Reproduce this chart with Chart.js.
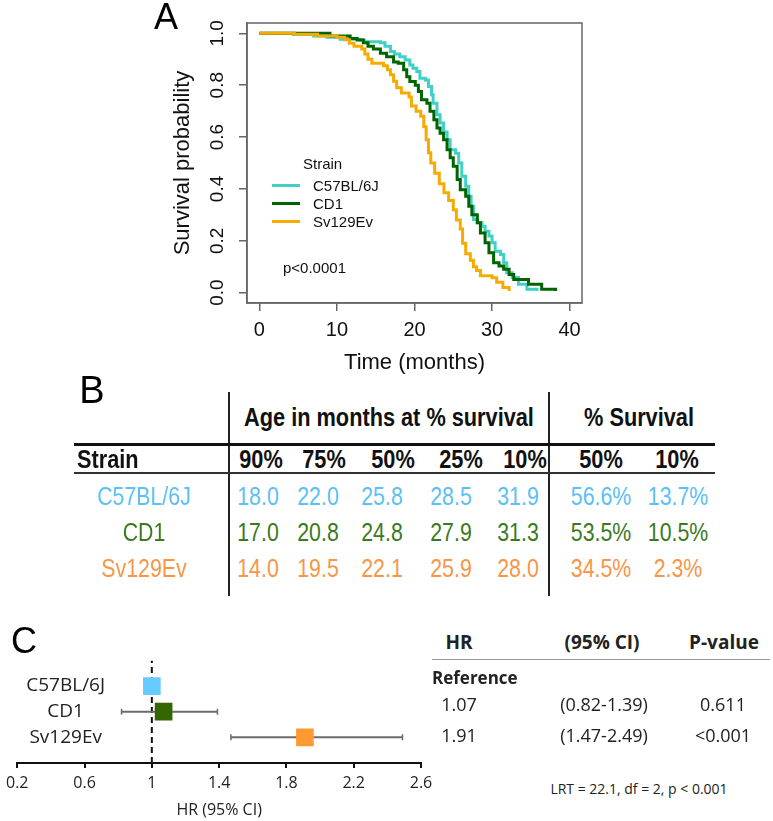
<!DOCTYPE html>
<html>
<head>
<meta charset="utf-8">
<script src="https://cdn.jsdelivr.net/npm/chart.js@4.4.0/dist/chart.umd.min.js"></script>
<style>
  html, body { margin: 0; padding: 0; background: #fff; }
  body { width: 773px; height: 821px; position: relative; overflow: hidden; font-family: "Liberation Sans", Arial, sans-serif; color: #111; }
  .abs { position: absolute; white-space: nowrap; line-height: 1.15; }
  canvas { position: absolute; }
  .hline { position: absolute; }
</style>
</head>
<body>
<canvas id="km" width="600" height="385" style="left:0;top:0"></canvas>
<canvas id="forest" width="440" height="181" style="left:0;top:640px"></canvas>
<script>
// ---- Panel A: Kaplan-Meier curves (time in months, survival probability)
const strains = ['C57BL/6J', 'CD1', 'Sv129Ev'];
const kmColors = ['#40D0C8', '#006400', '#F7AA00'];

const c57Time = [0, 4.4, 7.0, 8.7, 10.4, 13.0, 13.5, 15.6, 16.2, 16.9, 17.4, 18.1, 18.8, 19.4, 19.8, 20.3, 20.7, 21.4, 21.8, 22.2, 22.4, 22.9, 23.3, 23.75, 24.2, 24.6, 25.3, 25.7, 26.1, 26.6, 27.0, 27.3, 27.6, 28.1, 28.7, 29.1, 29.6, 30.0, 30.4, 31.1, 31.5, 31.9, 32.6, 33.4, 34.5, 35.8];
const c57Surv = [1.0, 0.996, 0.99, 0.985, 0.977, 0.974, 0.968, 0.964, 0.95, 0.93, 0.92, 0.91, 0.897, 0.878, 0.865, 0.853, 0.827, 0.82, 0.795, 0.763, 0.73, 0.686, 0.654, 0.62, 0.59, 0.551, 0.538, 0.5, 0.449, 0.41, 0.372, 0.333, 0.282, 0.27, 0.256, 0.237, 0.218, 0.192, 0.16, 0.147, 0.115, 0.077, 0.058, 0.032, 0.013, 0.006];

const cd1Time = [0, 9.1, 11.7, 12.6, 13.4, 14.0, 14.7, 15.6, 16.4, 17.3, 17.9, 18.6, 19.0, 19.4, 20.1, 20.5, 20.9, 21.6, 22.0, 22.5, 22.9, 23.3, 23.75, 24.2, 24.6, 25.0, 25.5, 25.9, 26.6, 27.0, 27.4, 28.1, 28.5, 29.1, 29.6, 30.2, 30.9, 31.5, 32.2, 32.8, 34.7, 36.4, 38.2];
const cd1Surv = [1.0, 0.99, 0.98, 0.974, 0.964, 0.95, 0.94, 0.923, 0.91, 0.89, 0.885, 0.86, 0.833, 0.814, 0.8, 0.776, 0.744, 0.73, 0.7, 0.667, 0.635, 0.615, 0.59, 0.551, 0.52, 0.487, 0.436, 0.397, 0.372, 0.333, 0.3, 0.27, 0.23, 0.192, 0.154, 0.115, 0.103, 0.09, 0.07, 0.051, 0.032, 0.013, 0.006];

const sv129Time = [0, 4.5, 7.5, 10.0, 11.0, 11.6, 12.2, 13.2, 13.6, 14.0, 14.5, 16.0, 16.5, 16.9, 17.3, 17.7, 18.3, 19.3, 19.6, 20.2, 20.8, 21.2, 21.5, 21.8, 22.1, 22.6, 23.2, 23.8, 24.4, 25.0, 25.4, 25.9, 26.2, 26.6, 27.2, 27.6, 28.0, 28.5, 30.0, 30.6, 31.4, 32.2];
const sv129Surv = [1.0, 0.997, 0.99, 0.985, 0.975, 0.962, 0.95, 0.94, 0.92, 0.9, 0.885, 0.875, 0.86, 0.84, 0.815, 0.79, 0.77, 0.755, 0.72, 0.7, 0.68, 0.64, 0.59, 0.54, 0.5, 0.46, 0.42, 0.385, 0.355, 0.32, 0.28, 0.245, 0.19, 0.15, 0.125, 0.1, 0.085, 0.065, 0.057, 0.04, 0.02, 0.006];

const timeTicks = [0, 10, 20, 30, 40];
const survTicks = [0, 0.2, 0.4, 0.6, 0.8, 1.0];

// ---- Panel B: table values
const survivalLevels = ['90%', '75%', '50%', '25%', '10%'];
const ageAtSurvival = [
  [18.0, 22.0, 25.8, 28.5, 31.9],
  [17.0, 20.8, 24.8, 27.9, 31.3],
  [14.0, 19.5, 22.1, 25.9, 28.0]
];
const pctLevels = ['50%', '10%'];
const pctSurvival = [
  [56.6, 13.7],
  [53.5, 10.5],
  [34.5, 2.3]
];
const tableColors = ['#5BC0F5', '#3B7A1E', '#F79646'];

// ---- Panel C: hazard ratios
const hrValues = [1.0, 1.07, 1.91];
const ciLow = [null, 0.82, 1.47];
const ciHigh = [null, 1.39, 2.49];
const pValues = ['', '0.611', '<0.001'];
const hrTicks = [0.2, 0.6, 1, 1.4, 1.8, 2.2, 2.6];
const hrColors = ['#66CCFF', '#336600', '#FF9933'];

const toPoints = (ts, ss) => ts.map((t, i) => ({ x: t, y: ss[i] }));
const curves = [toPoints(c57Time, c57Surv), toPoints(cd1Time, cd1Surv), toPoints(sv129Time, sv129Surv)];

function addText(str, x, y, font, color, align, narrow) {
  const d = document.createElement('div');
  d.className = 'abs';
  d.textContent = str;
  d.style.left = x + 'px';
  d.style.top = y + 'px';
  d.style.font = font;
  d.style.color = color || '#111';
  const sx = narrow ? ' scaleX(0.82)' : '';
  if (align === 'left') {
    d.style.transformOrigin = '0 50%';
    d.style.transform = 'translate(0,-50%)' + sx;
  } else {
    d.style.transform = 'translate(-50%,-50%)' + sx;
  }
  document.body.appendChild(d);
  return d;
}
function addLine(x, y, w, h, color) {
  const d = document.createElement('div');
  d.className = 'hline';
  d.style.left = x + 'px';
  d.style.top = y + 'px';
  d.style.width = w + 'px';
  d.style.height = h + 'px';
  d.style.background = color;
  document.body.appendChild(d);
}

// frame round the plot region, like R's bty="o"
const boxPlugin = {
  id: 'box',
  afterDatasetsDraw(chart) {
    const { ctx, chartArea: a } = chart;
    ctx.save();
    ctx.strokeStyle = '#666';
    ctx.lineWidth = 1.5;
    ctx.strokeRect(a.left, a.top, a.right - a.left, a.bottom - a.top);
    ctx.restore();
  }
};

const arial = '"Liberation Sans", Arial, sans-serif';

const kmChart = new Chart(document.getElementById('km'), {
  type: 'line',
  data: {
    datasets: strains.map((s, i) => ({
      label: s,
      data: curves[i],
      stepped: true,
      borderColor: kmColors[i],
      borderWidth: 3,
      pointRadius: 0,
      fill: false,
      order: 3 - i
    }))
  },
  options: {
    responsive: false,
    animation: false,
    layout: { padding: { left: 0, top: 23, right: 18, bottom: 0 } },
    plugins: { legend: { display: false }, tooltip: { enabled: false } },
    scales: {
      x: {
        type: 'linear', min: -1.6, max: 41.6,
        afterBuildTicks: s => { s.ticks = timeTicks.map(v => ({ value: v })); },
        afterFit: s => { s.height = 82; },
        ticks: { font: { family: arial, size: 20 }, color: '#111', padding: 7, maxRotation: 0, callback: v => String(v) },
        grid: { drawOnChartArea: false, tickLength: 8, color: '#666', lineWidth: 1.5 },
        border: { display: true, color: '#666', width: 1.5 },
        title: { display: true, text: 'Time (months)', font: { family: arial, size: 22 }, color: '#111', padding: { top: 0, bottom: 9 } }
      },
      y: {
        type: 'linear', min: -0.04, max: 1.04,
        afterBuildTicks: s => { s.ticks = survTicks.map(v => ({ value: v })); },
        afterFit: s => { s.width = 247; },
        ticks: { font: { family: arial, size: 19 }, color: '#111', padding: 8, minRotation: 90, maxRotation: 90, crossAlign: 'center', callback: v => v.toFixed(1) },
        grid: { drawOnChartArea: false, tickLength: 8, color: '#666', lineWidth: 1.5 },
        border: { display: true, color: '#666', width: 1.5 },
        title: { display: true, text: 'Survival probability', font: { family: arial, size: 22 }, color: '#111', padding: { top: 170, bottom: 0 } }
      }
    }
  },
  plugins: [boxPlugin]
});

// panel A labels and legend
addText('A', 166, 17, '36px ' + arial, '#000');
addText('Strain', 303, 163, '15px ' + arial, '#111', 'left');
kmChart.data.datasets.forEach((ds, i) => {
  const y = 185 + i * 18;
  addLine(272, y - 1.5, 28, 3, ds.borderColor);
  addText(ds.label, 313, y, '15px ' + arial, '#111', 'left');
});
addText('p<0.0001', 283, 267, '15px ' + arial, '#111', 'left');

// ---- Panel B table
addText('B', 92, 390, '38px ' + arial, '#000');
addLine(228, 392, 1.5, 204, '#222');
addLine(548, 392, 1.5, 204, '#222');
addLine(74, 443, 641, 3, '#111');
addLine(74, 472, 641, 2, '#333');
const hdrFont = 'bold 26.5px ' + arial;
const cellFont = '26px ' + arial;
addText('Age in months at % survival', 389, 417, hdrFont, '#111', 'center', true);
addText('% Survival', 639, 417, hdrFont, '#111', 'center', true);
addText('Strain', 77, 459, hdrFont, '#111', 'left', true);
const hdrX = [260.5, 324, 392.5, 460.5, 524.5, 601, 677];
survivalLevels.concat(pctLevels).forEach((lv, j) => addText(lv, hdrX[j], 459, hdrFont, '#111', 'center', true));
const cellX = [257.5, 318, 382, 451, 517.5, 601, 677.5];
const rowY = [496, 532, 568];
strains.forEach((s, i) => {
  addText(s, 144, rowY[i], cellFont, tableColors[i], 'center', true);
  ageAtSurvival[i].forEach((v, j) => addText(v.toFixed(1), cellX[j], rowY[i], cellFont, tableColors[i], 'center', true));
  pctSurvival[i].forEach((v, j) => addText(v.toFixed(1) + '%', cellX[5 + j], rowY[i], cellFont, tableColors[i], 'center', true));
});

// ---- Panel C forest plot
const openSans = '"Open Sans", "Noto Sans", sans-serif';
const nRows = strains.length;
const forestSets = [{
  data: [{ x: 1, y: 0 }, { x: 1, y: nRows + 1 }],
  borderColor: '#111', borderWidth: 2, borderDash: [6, 4], pointRadius: 0, showLine: true, order: 3
}];
strains.forEach((s, i) => {
  if (ciLow[i] === null) return;
  forestSets.push({
    data: [{ x: ciLow[i], y: nRows - i }, { x: ciHigh[i], y: nRows - i }],
    borderColor: '#6b6b6b', borderWidth: 2, showLine: true,
    pointStyle: 'line', rotation: 90, pointRadius: 3, pointBorderColor: '#6b6b6b', pointBorderWidth: 1.5, order: 2
  });
});
forestSets.push({
  data: hrValues.map((v, i) => ({ x: v, y: nRows - i })),
  pointStyle: 'rect', pointRadius: 12.5, backgroundColor: hrColors, borderWidth: 0, showLine: false, order: 1
});

new Chart(document.getElementById('forest'), {
  type: 'scatter',
  data: { datasets: forestSets },
  options: {
    responsive: false,
    animation: false,
    layout: { padding: { left: 14, top: 7, right: 19, bottom: 0 } },
    plugins: { legend: { display: false }, tooltip: { enabled: false } },
    scales: {
      x: {
        type: 'linear', min: 0.2, max: 2.6,
        afterBuildTicks: s => { s.ticks = hrTicks.map(v => ({ value: v })); },
        afterFit: s => { s.height = 58; },
        ticks: { font: { family: openSans, size: 16 }, color: '#222', padding: 6, maxRotation: 0, callback: v => String(v) },
        grid: { drawOnChartArea: false, tickLength: 5, color: '#111', lineWidth: 2 },
        border: { display: true, color: '#111', width: 2 },
        title: { display: true, text: 'HR (95% CI)', font: { family: openSans, size: 16 }, color: '#222', padding: { top: 0, bottom: 1 } }
      },
      y: {
        type: 'linear', min: 0, max: nRows + 1,
        afterBuildTicks: s => { s.ticks = strains.map((_, i) => ({ value: nRows - i })); },
        afterFit: s => { s.width = 0; },
        ticks: { mirror: true, crossAlign: 'center', padding: 9, font: { family: openSans, size: 19 }, color: '#222', callback: v => strains[nRows - v] },
        grid: { display: false },
        border: { display: false }
      }
    }
  }
});

addText('C', 24, 641, '36px ' + arial, '#000');
const rightFont = '18px ' + openSans;
addText('HR', 459, 642, 'bold 19px ' + openSans, '#222');
addText('(95% CI)', 602, 642, 'bold 19px ' + openSans, '#222');
addText('P-value', 724, 642, 'bold 19px ' + openSans, '#222');
addLine(432, 659, 338, 1, '#999');
addText('Reference', 432, 677, 'bold 17px ' + openSans, '#222', 'left');
const cRowY = [null, 704, 735];
strains.forEach((s, i) => {
  if (ciLow[i] === null) return;
  addText(hrValues[i].toFixed(2), 459, cRowY[i], rightFont, '#222');
  addText('(' + ciLow[i].toFixed(2) + '-' + ciHigh[i].toFixed(2) + ')', 604, cRowY[i], rightFont, '#222');
  addText(pValues[i], 723, cRowY[i], rightFont, '#222');
});
addText('LRT = 22.1, df = 2, p < 0.001', 639, 788, '14px ' + openSans, '#222');
</script>
</body>
</html>
